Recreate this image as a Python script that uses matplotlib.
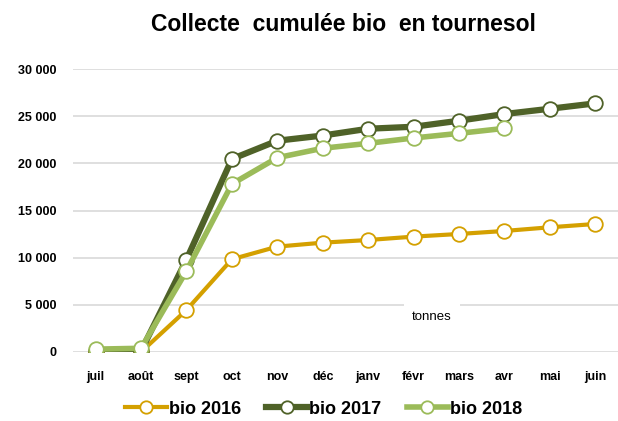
import matplotlib.pyplot as plt
import numpy as np

months = ['juil', 'août', 'sept', 'oct', 'nov', 'déc', 'janv', 'févr', 'mars', 'avr', 'mai', 'juin']
bio_2016 = [0, 0, 4450, 9830, 11170, 11590, 11870, 12230, 12510, 12830, 13220, 13570]
bio_2017 = [100, 100, 9800, 20460, 22400, 22950, 23670, 23880, 24520, 25230, 25790, 26360]
bio_2018 = [300, 390, 8590, 17810, 20600, 21600, 22120, 22690, 23180, 23710]
yticks = [0, 5000, 10000, 15000, 20000, 25000, 30000]
ytick_labels = ['0', '5 000', '10 000', '15 000', '20 000', '25 000', '30 000']

plt.rcParams['font.family'] = ['Liberation Sans', 'DejaVu Sans']

fig = plt.figure(figsize=(6.18, 4.21), dpi=100)
ax = fig.add_axes([0.118, 0.164, 0.882, 0.672])

x = np.arange(len(months))
series = [
    ('bio 2016', bio_2016, '#D4A000', 3.0),
    ('bio 2017', bio_2017, '#4F6228', 4.5),
    ('bio 2018', bio_2018, '#9BBB59', 4.0),
]
for label, vals, color, lw in series:
    ax.plot(x[:len(vals)], vals, color=color, lw=lw, marker='o', ms=10.5,
            mfc='white', mec=color, mew=1.3, label=label, zorder=3)

ax.set_xlim(-0.5, len(months) - 0.5)
ax.set_ylim(0, 30000)
ax.set_yticks(yticks)
ax.set_yticklabels(ytick_labels, fontsize=9, fontweight='bold')
ax.set_xticks(x)
ax.set_xticklabels(months, fontsize=9, fontweight='bold')
ax.tick_params(axis='x', length=0, pad=14)
ax.tick_params(axis='y', length=0, pad=12)
ax.grid(axis='y', color='#d9d9d9', lw=1.2, zorder=0)
for s in ax.spines.values():
    s.set_visible(False)

ax.text(7.4, 3700, 'tonnes', fontsize=9.5, ha='center', va='center',
        bbox=dict(facecolor='white', edgecolor='none', pad=6), zorder=2)

fig.suptitle('Collecte  cumulée bio  en tournesol', x=0.555, y=0.97,
             fontsize=16.5, fontweight='bold')

ax.legend(loc='lower center', bbox_to_anchor=(0.46, -0.29), ncol=3, frameon=False,
          prop={'size': 13, 'weight': 'bold'}, handlelength=2.3, markerscale=0.85,
          handletextpad=0.1, columnspacing=1.4)

fig.savefig('out.png', dpi=100)
